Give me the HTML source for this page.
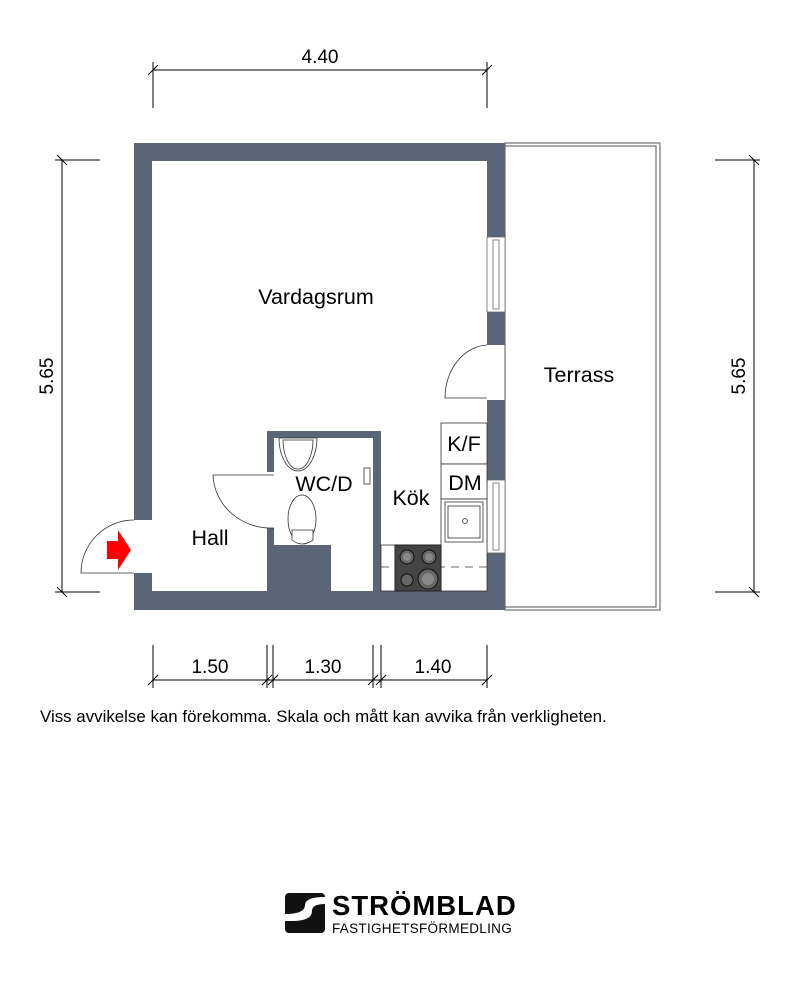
<!DOCTYPE html>
<html><head><meta charset="utf-8"><style>
body{margin:0;background:#fff;width:800px;height:982px;overflow:hidden}
text{font-family:"Liberation Sans",sans-serif;fill:#000}
</style></head><body>
<svg width="800" height="982" viewBox="0 0 800 982" xmlns="http://www.w3.org/2000/svg">
<g stroke="#000" stroke-width="1" fill="none">
<line x1="153" y1="70" x2="487" y2="70"/>
<line x1="153" y1="62" x2="153" y2="108"/><line x1="487" y1="62" x2="487" y2="108"/>
<line x1="148" y1="75" x2="158" y2="65"/><line x1="482" y1="75" x2="492" y2="65"/>
<line x1="62" y1="160" x2="62" y2="592"/>
<line x1="55" y1="160" x2="100" y2="160"/><line x1="55" y1="592" x2="100" y2="592"/>
<line x1="57" y1="155" x2="67" y2="165"/><line x1="57" y1="587" x2="67" y2="597"/>
<line x1="754" y1="160" x2="754" y2="592"/>
<line x1="715" y1="160" x2="760" y2="160"/><line x1="715" y1="592" x2="760" y2="592"/>
<line x1="749" y1="155" x2="759" y2="165"/><line x1="749" y1="587" x2="759" y2="597"/>
<line x1="153" y1="680" x2="487" y2="680"/>
<line x1="153" y1="645" x2="153" y2="688"/><line x1="267" y1="645" x2="267" y2="688"/><line x1="273" y1="645" x2="273" y2="688"/>
<line x1="373" y1="645" x2="373" y2="688"/><line x1="381" y1="645" x2="381" y2="688"/><line x1="487" y1="645" x2="487" y2="688"/>
<line x1="148" y1="685" x2="158" y2="675"/><line x1="262" y1="685" x2="272" y2="675"/><line x1="268" y1="685" x2="278" y2="675"/>
<line x1="368" y1="685" x2="378" y2="675"/><line x1="376" y1="685" x2="386" y2="675"/><line x1="482" y1="685" x2="492" y2="675"/>
</g>
<text x="320" y="63" font-size="19" text-anchor="middle">4.40</text>
<text x="53" y="376" font-size="19" text-anchor="middle" transform="rotate(-90 53 376)">5.65</text>
<text x="745" y="376" font-size="19" text-anchor="middle" transform="rotate(-90 745 376)">5.65</text>
<text x="210" y="673" font-size="19" text-anchor="middle">1.50</text>
<text x="323" y="673" font-size="19" text-anchor="middle">1.30</text>
<text x="433" y="673" font-size="19" text-anchor="middle">1.40</text>

<rect x="505" y="143" width="155" height="467" fill="none" stroke="#555" stroke-width="1"/>
<rect x="505" y="146" width="151" height="461" fill="none" stroke="#555" stroke-width="1"/>

<g fill="#5a6578">
<rect x="134" y="143" width="371" height="18"/>
<rect x="134" y="143" width="18" height="377"/>
<rect x="134" y="573" width="18" height="37"/>
<rect x="134" y="591" width="371" height="19"/>
<rect x="487" y="143" width="18" height="94"/>
<rect x="487" y="312" width="18" height="33"/>
<rect x="487" y="400" width="18" height="80"/>
<rect x="487" y="553" width="18" height="57"/>
<rect x="267" y="431" width="114" height="7"/>
<rect x="267" y="431" width="7" height="41"/>
<rect x="267" y="528" width="7" height="63"/>
<rect x="267" y="545" width="64" height="46"/>
<rect x="373" y="431" width="8" height="160"/>
</g>
<g fill="#fff" stroke="#666" stroke-width="0.8">
<rect x="487" y="237" width="18" height="75"/><rect x="493" y="240" width="6" height="69"/>
<rect x="487" y="480" width="18" height="73"/><rect x="493" y="483" width="6" height="67"/>
</g>
<g fill="#fff" stroke="#333" stroke-width="0.8">
<path d="M134 573 L81 573 A53 53 0 0 1 134 520"/>
<path d="M274 475 L213 475 A58 55 0 0 0 274 528"/>
<path d="M487 398 L445 398 A44 53 0 0 1 487 345"/>
</g>
<polygon points="107,541 118,541 118,530 131,550 118,570 118,559 107,559" fill="#f00"/>

<g fill="#fff" stroke="#333" stroke-width="0.8">
<path d="M279 438 L317 438 A19 33 0 0 1 279 438 Z"/>
<path d="M283 440 L313 440 A15 29 0 0 1 283 440 Z"/>
<ellipse cx="302" cy="519" rx="14" ry="24"/>
<path d="M292 530 L313 530 L313 540 Q302 548 292 540 Z"/>
<rect x="364" y="468" width="6" height="16"/>
</g>
<g fill="#fff" stroke="#333" stroke-width="0.8">
<rect x="441" y="423" width="46" height="41"/>
<rect x="441" y="464" width="46" height="35"/>
<rect x="441" y="499" width="46" height="92"/>
<rect x="445" y="502" width="38" height="40"/><rect x="448" y="506" width="32" height="32"/>
<circle cx="465" cy="521" r="2.5"/>
<rect x="381" y="545" width="14" height="46"/>
</g>
<line x1="381" y1="567" x2="487" y2="567" stroke="#333" stroke-width="0.8" stroke-dasharray="8,6"/>
<rect x="395" y="545" width="46" height="46" fill="#444" stroke="#222"/>
<g fill="#666" stroke="#111">
<circle cx="407" cy="557" r="7"/><circle cx="429" cy="557" r="7"/>
<circle cx="407" cy="580" r="6"/><circle cx="428" cy="579" r="10"/>
</g>
<g fill="#888" stroke="none"><circle cx="407" cy="557" r="4"/><circle cx="429" cy="557" r="4"/><circle cx="428" cy="579" r="6"/></g>

<text x="316" y="304" font-size="21.5" text-anchor="middle">Vardagsrum</text>
<text x="579" y="382" font-size="21.5" text-anchor="middle">Terrass</text>
<text x="210" y="545" font-size="21.5" text-anchor="middle">Hall</text>
<text x="324" y="491" font-size="21.5" text-anchor="middle">WC/D</text>
<text x="411" y="505" font-size="21.5" text-anchor="middle">Kök</text>
<text x="464" y="451" font-size="21.5" text-anchor="middle">K/F</text>
<text x="465" y="490" font-size="21.5" text-anchor="middle">DM</text>
<text x="40" y="722" font-size="16.9">Viss avvikelse kan förekomma. Skala och mått kan avvika från verkligheten.</text>

<rect x="285" y="893" width="40" height="40" rx="4" fill="#111"/>
<path d="M285 914 Q305 914 305 905 Q305 897 325 897 L325 904 Q312 904 312 911 Q312 921 292 921 L285 921 Z" fill="#fff"/>
<text x="332" y="915" font-size="27.5" font-weight="bold" letter-spacing="1">STRÖMBLAD</text>
<text x="332" y="933" font-size="13.5" letter-spacing="0.3">FASTIGHETSFÖRMEDLING</text>
</svg>
</body></html>
